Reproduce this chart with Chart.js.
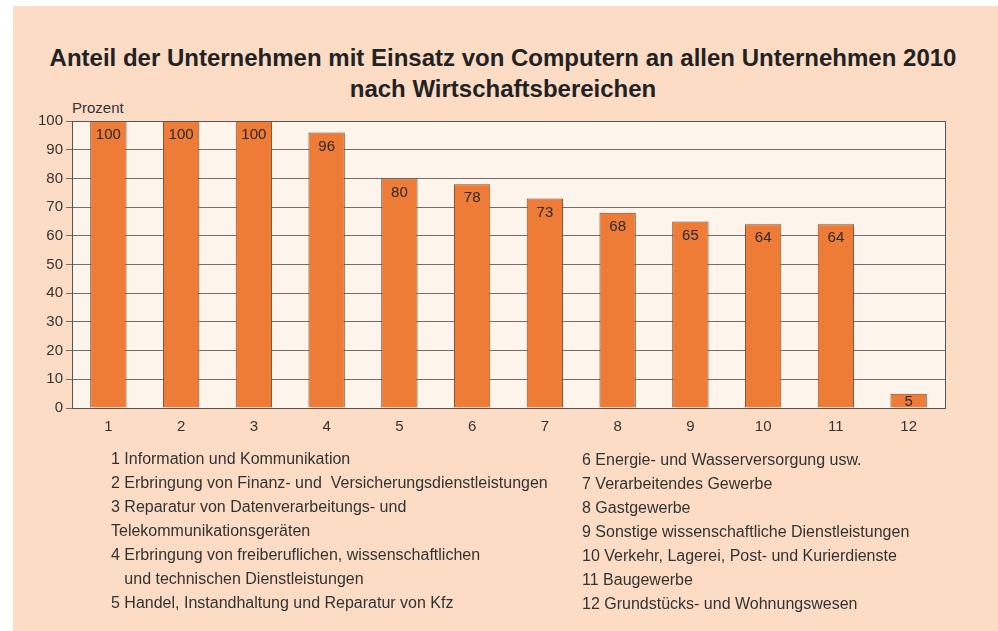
<!DOCTYPE html>
<html><head><meta charset="utf-8">
<script src="https://cdn.jsdelivr.net/npm/chart.js@4/dist/chart.umd.min.js"></script>
<style>
html,body{margin:0;padding:0;background:#fff;width:998px;height:631px;overflow:hidden;font-family:"Liberation Sans",Arial,sans-serif;}
#panel{position:absolute;left:13px;top:6px;width:985px;height:625px;background:#fcdcc5;}
#title{position:absolute;left:0;width:1006px;top:42px;text-align:center;font-weight:bold;font-size:24px;line-height:31px;color:#222;}
#unit{position:absolute;left:72px;top:99px;font-size:15px;color:#333;}
#wrap{position:absolute;left:0;top:0;width:998px;height:631px;}
.leg{position:absolute;font-size:16px;color:#333;white-space:pre;line-height:18px;}
</style></head><body>
<div id="panel"></div>
<div id="title">Anteil der Unternehmen mit Einsatz von Computern an allen Unternehmen 2010<br>nach Wirtschaftsbereichen</div>
<div id="unit">Prozent</div>
<div id="wrap"><canvas id="c" width="998" height="631"></canvas></div>
<div id="legend"></div>
<script>
const categories = ["1","2","3","4","5","6","7","8","9","10","11","12"];
const values = [100,100,100,96,80,78,73,68,65,64,64,5];
const legendLeft = [
  "1 Information und Kommunikation",
  "2 Erbringung von Finanz- und  Versicherungsdienstleistungen",
  "3 Reparatur von Datenverarbeitungs- und",
  "Telekommunikationsgeräten",
  "4 Erbringung von freiberuflichen, wissenschaftlichen",
  "   und technischen Dienstleistungen",
  "5 Handel, Instandhaltung und Reparatur von Kfz"
];
const legendRight = [
  "6 Energie- und Wasserversorgung usw.",
  "7 Verarbeitendes Gewerbe",
  "8 Gastgewerbe",
  "9 Sonstige wissenschaftliche Dienstleistungen",
  "10 Verkehr, Lagerei, Post- und Kurierdienste",
  "11 Baugewerbe",
  "12 Grundstücks- und Wohnungswesen"
];

const lg = document.getElementById('legend');
function addCol(lines, x, y0){
  lines.forEach((t,i)=>{
    const d=document.createElement('div');
    d.className='leg';
    d.style.left=x+'px';
    d.style.top=(y0+i*24)+'px';
    d.textContent=t;
    lg.appendChild(d);
  });
}
addCol(legendLeft,111,450);
addCol(legendRight,582,451);

const plotBg = {
  id:'plotBg',
  beforeDraw(chart){
    const {ctx, chartArea:a} = chart;
    ctx.save();
    ctx.fillStyle='#fdf4ec';
    ctx.fillRect(a.left,a.top,a.right-a.left,a.bottom-a.top);
    ctx.restore();
  },
  afterDatasetsDraw(chart){
    const {ctx, chartArea:a} = chart;
    ctx.save();
    ctx.strokeStyle='#555';
    ctx.lineWidth=1;
    ctx.strokeRect(Math.round(a.left)+0.5,Math.round(a.top)+0.5,Math.round(a.right-a.left),Math.round(a.bottom-a.top));
    const meta=chart.getDatasetMeta(0);
    ctx.fillStyle='#2a2a2a';
    ctx.font='15px "Liberation Sans", Arial, sans-serif';
    ctx.textAlign='center';
    ctx.textBaseline='middle';
    meta.data.forEach((bar,i)=>{
      let y=bar.y+14;
      if (y>a.bottom-6) y=a.bottom-6;
      ctx.fillText(String(values[i]),bar.x,y);
    });
    ctx.restore();
  }
};

new Chart(document.getElementById('c'),{
  type:'bar',
  data:{labels:categories,datasets:[{data:values,backgroundColor:'#ee7b36',borderColor:'#7a4a30',borderWidth:1,categoryPercentage:1,barPercentage:0.5}]},
  options:{
    responsive:false,animation:false,
    layout:{padding:{left:0,right:53,top:121,bottom:193}},
    plugins:{legend:{display:false},tooltip:{enabled:false},title:{display:false}},
    scales:{
      x:{
        grid:{display:false},
        border:{display:false},
        ticks:{color:'#333',font:{size:15,family:'"Liberation Sans", Arial, sans-serif'},padding:2},
        afterFit(s){s.height=30;}
      },
      y:{
        min:0,max:100,
        ticks:{stepSize:10,color:'#333',font:{size:15,family:'"Liberation Sans", Arial, sans-serif'},padding:3},
        grid:{color:'#6e6e6e',lineWidth:1,drawTicks:true,tickLength:6},
        border:{display:true,color:'#555'},
        afterFit(s){s.width=72;}
      }
    }
  },
  plugins:[plotBg]
});
</script>
</body></html>
